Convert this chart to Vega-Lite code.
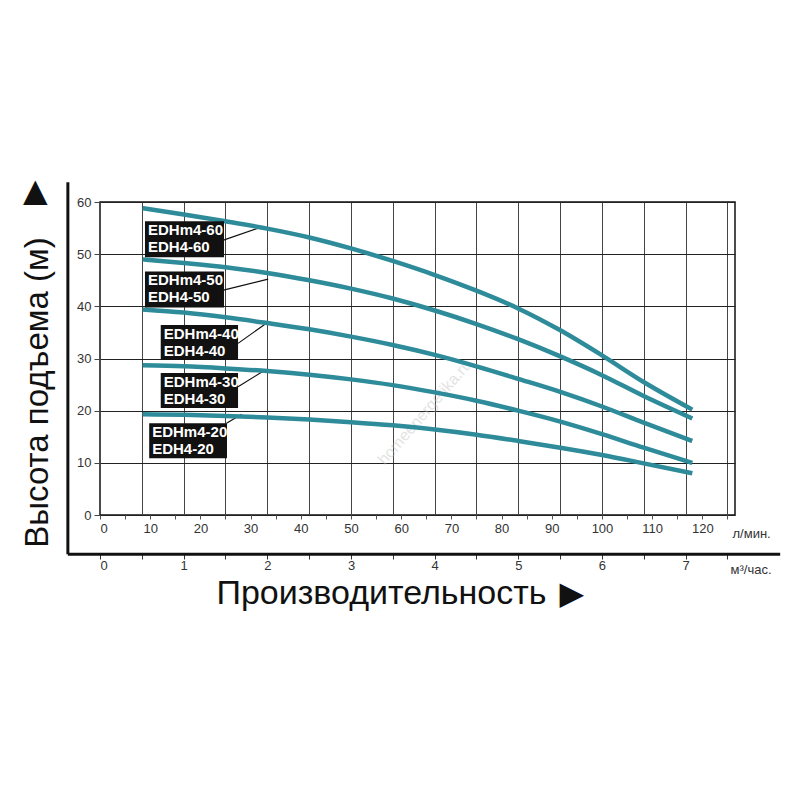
{
  "$schema": "https://vega.github.io/schema/vega-lite/v6.json",
  "width": 635,
  "height": 313,
  "autosize": "none",
  "padding": {"left": 100, "top": 202, "right": 65, "bottom": 285},
  "background": "white",
  "config": {
    "view": {"stroke": "#111", "strokeWidth": 1.5},
    "font": "Liberation Sans",
    "axis": {"labelFont": "Liberation Sans", "titleFont": "Liberation Sans"}
  },
  "datasets": {
    "curves": [
      {"model": "60", "q": 8.5, "h": 58.8}, {"model": "60", "q": 16.7, "h": 57.6}, {"model": "60", "q": 25, "h": 56.3}, {"model": "60", "q": 33.3, "h": 54.9}, {"model": "60", "q": 41.7, "h": 53.2}, {"model": "60", "q": 50, "h": 51.1}, {"model": "60", "q": 58.3, "h": 48.7}, {"model": "60", "q": 66.7, "h": 46.0}, {"model": "60", "q": 75, "h": 43.0}, {"model": "60", "q": 83.3, "h": 39.6}, {"model": "60", "q": 91.7, "h": 35.4}, {"model": "60", "q": 100, "h": 30.6}, {"model": "60", "q": 108.3, "h": 25.5}, {"model": "60", "q": 118, "h": 20.2},
      {"model": "50", "q": 8.5, "h": 49.0}, {"model": "50", "q": 16.7, "h": 48.3}, {"model": "50", "q": 25, "h": 47.5}, {"model": "50", "q": 33.3, "h": 46.4}, {"model": "50", "q": 41.7, "h": 45.0}, {"model": "50", "q": 50, "h": 43.4}, {"model": "50", "q": 58.3, "h": 41.5}, {"model": "50", "q": 66.7, "h": 39.2}, {"model": "50", "q": 75, "h": 36.6}, {"model": "50", "q": 83.3, "h": 33.7}, {"model": "50", "q": 91.7, "h": 30.4}, {"model": "50", "q": 100, "h": 26.8}, {"model": "50", "q": 108.3, "h": 22.8}, {"model": "50", "q": 118, "h": 18.5},
      {"model": "40", "q": 8.5, "h": 39.4}, {"model": "40", "q": 16.7, "h": 38.8}, {"model": "40", "q": 25, "h": 37.9}, {"model": "40", "q": 33.3, "h": 36.8}, {"model": "40", "q": 41.7, "h": 35.6}, {"model": "40", "q": 50, "h": 34.2}, {"model": "40", "q": 58.3, "h": 32.6}, {"model": "40", "q": 66.7, "h": 30.7}, {"model": "40", "q": 75, "h": 28.5}, {"model": "40", "q": 83.3, "h": 26.1}, {"model": "40", "q": 91.7, "h": 23.6}, {"model": "40", "q": 100, "h": 20.8}, {"model": "40", "q": 108.3, "h": 17.7}, {"model": "40", "q": 118, "h": 14.2},
      {"model": "30", "q": 8.5, "h": 28.7}, {"model": "30", "q": 16.7, "h": 28.5}, {"model": "30", "q": 25, "h": 28.1}, {"model": "30", "q": 33.3, "h": 27.6}, {"model": "30", "q": 41.7, "h": 26.9}, {"model": "30", "q": 50, "h": 26.0}, {"model": "30", "q": 58.3, "h": 24.9}, {"model": "30", "q": 66.7, "h": 23.5}, {"model": "30", "q": 75, "h": 21.9}, {"model": "30", "q": 83.3, "h": 20.0}, {"model": "30", "q": 91.7, "h": 17.9}, {"model": "30", "q": 100, "h": 15.5}, {"model": "30", "q": 108.3, "h": 12.9}, {"model": "30", "q": 118, "h": 10.0},
      {"model": "20", "q": 8.5, "h": 19.3}, {"model": "20", "q": 16.7, "h": 19.2}, {"model": "20", "q": 25, "h": 19.0}, {"model": "20", "q": 33.3, "h": 18.7}, {"model": "20", "q": 41.7, "h": 18.3}, {"model": "20", "q": 50, "h": 17.8}, {"model": "20", "q": 58.3, "h": 17.2}, {"model": "20", "q": 66.7, "h": 16.4}, {"model": "20", "q": 75, "h": 15.4}, {"model": "20", "q": 83.3, "h": 14.2}, {"model": "20", "q": 91.7, "h": 12.9}, {"model": "20", "q": 100, "h": 11.5}, {"model": "20", "q": 108.3, "h": 9.9}, {"model": "20", "q": 118, "h": 8.0}
    ],
    "boxes": [
      {"model": "60", "label": "EDHm4-60\nEDH4-60", "q": 8.96, "q2": 24.7, "h": 56.3, "h2": 49.4},
      {"model": "50", "label": "EDHm4-50\nEDH4-50", "q": 8.96, "q2": 24.7, "h": 46.7, "h2": 39.8},
      {"model": "40", "label": "EDHm4-40\nEDH4-40", "q": 12.1, "q2": 27.5, "h": 36.4, "h2": 29.7},
      {"model": "30", "label": "EDHm4-30\nEDH4-30", "q": 12.1, "q2": 27.5, "h": 27.2, "h2": 20.5},
      {"model": "20", "label": "EDHm4-20\nEDH4-20", "q": 9.8, "q2": 25.3, "h": 17.6, "h2": 10.9}
    ],
    "leaders": [
      {"model": "60", "q": 24.6, "h": 52.7, "q2": 32.2, "h2": 55.2},
      {"model": "50", "q": 24.6, "h": 43.1, "q2": 33.5, "h2": 45.2},
      {"model": "40", "q": 27.5, "h": 32.9, "q2": 33.5, "h2": 37.0},
      {"model": "30", "q": 27.5, "h": 24.6, "q2": 32.4, "h2": 27.5},
      {"model": "20", "q": 25.2, "h": 17.6, "q2": 28.2, "h2": 19.3}
    ],
    "frame": [
      {"q": -6.4, "h": 63.8, "q2": -6.4, "h2": -7.5},
      {"q": -6.4, "h": -7.5, "q2": 135.5, "h2": -7.5}
    ],
    "symbols": [
      {"sym": "▲", "q": -12.9, "h": 62.1},
      {"sym": "▶", "q": 94.0, "h": -15.1}
    ],
    "watermark": [
      {"text": "homeenergetika.ru", "q": 64.7, "h": 19.7}
    ]
  },
  "layer": [
    {
      "data": {"name": "watermark"},
      "mark": {"type": "text", "angle": 311, "fontSize": 16, "color": "#bbbbbb", "opacity": 0.4, "align": "center", "baseline": "middle"},
      "encoding": {
        "x": {"field": "q", "type": "quantitative", "axis": null},
        "y": {"field": "h", "type": "quantitative"},
        "text": {"field": "text"}
      }
    },
    {
      "data": {"name": "leaders"},
      "mark": {"type": "rule", "color": "#111", "strokeWidth": 1.2},
      "encoding": {
        "x": {"field": "q", "type": "quantitative",
          "axis": {"orient": "bottom", "values": [8.3333, 16.6667, 25, 33.3333, 41.6667, 50, 58.3333, 66.6667, 75, 83.3333, 91.6667, 100, 108.3333, 116.6667, 125],
            "grid": true, "gridColor": "#444", "gridWidth": 1, "labels": false, "ticks": false, "domain": false,
            "title": "Производительность", "titleFontSize": 34, "titleFontWeight": "normal", "titleColor": "#111",
            "titleX": 281, "titleY": 88, "titleAlign": "center", "titleBaseline": "alphabetic"}},
        "x2": {"field": "q2"},
        "y": {"field": "h", "type": "quantitative"},
        "y2": {"field": "h2"}
      }
    },
    {
      "data": {"name": "curves"},
      "mark": {"type": "line", "color": "#2e8b9a", "strokeWidth": 4.5, "interpolate": "monotone", "strokeCap": "butt"},
      "encoding": {
        "x": {"field": "q", "type": "quantitative",
          "scale": {"domain": [0, 126.5], "nice": false, "zero": false},
          "axis": {"orient": "bottom", "values": [0, 5, 10, 15, 20, 25, 30, 35, 40, 45, 50, 55, 60, 65, 70, 75, 80, 85, 90, 95, 100, 105, 110, 115, 120, 125],
            "labelExpr": "datum.value % 10 == 0 && datum.value <= 120 ? datum.label : ''",
            "grid": false, "domain": false, "tickSize": 4, "tickColor": "#555", "labelFontSize": 13, "labelColor": "#333", "labelPadding": 3,
            "title": "л/мин.", "titleFontSize": 13, "titleFontWeight": "normal", "titleColor": "#333",
            "titleX": 632, "titleY": 22, "titleAlign": "left", "titleBaseline": "alphabetic"}},
        "y": {"field": "h", "type": "quantitative",
          "scale": {"domain": [0, 60], "nice": false},
          "axis": {"values": [0, 5, 10, 15, 20, 25, 30, 35, 40, 45, 50, 55, 60],
            "labelExpr": "datum.value % 10 == 0 ? datum.label : ''",
            "grid": true, "gridColor": "#222", "gridWidth": 1, "domain": false, "tickSize": 6, "tickColor": "#444",
            "labelFontSize": 13, "labelColor": "#333", "labelPadding": 3,
            "title": "Высота подъема (м)", "titleFontSize": 33, "titleFontWeight": "normal", "titleColor": "#111",
            "titleAngle": 270, "titleX": -53, "titleY": 190, "titleAlign": "center", "titleBaseline": "alphabetic"}},
        "detail": {"field": "model"}
      }
    },
    {
      "data": {"name": "boxes"},
      "mark": {"type": "rect", "color": "#111"},
      "encoding": {
        "x": {"field": "q", "type": "quantitative",
          "axis": {"values": [0, 8.3333, 16.6667, 25, 33.3333, 41.6667, 50, 58.3333, 66.6667, 75, 83.3333, 91.6667, 100, 108.3333, 116.6667, 125],
            "labelExpr": "round(datum.value / 8.33333) % 2 == 0 ? format(round(datum.value / 16.66667), 'd') : ''",
            "orient": "bottom", "offset": 39, "grid": false, "domain": false, "tickSize": 5, "tickColor": "#333",
            "labelFontSize": 13, "labelColor": "#333", "labelPadding": 0,
            "title": "м³/час.", "titleFontSize": 13, "titleFontWeight": "normal", "titleColor": "#333",
            "titleX": 630, "titleY": 19, "titleAlign": "left", "titleBaseline": "alphabetic"}},
        "x2": {"field": "q2"},
        "y": {"field": "h", "type": "quantitative"},
        "y2": {"field": "h2"}
      }
    },
    {
      "data": {"name": "boxes"},
      "mark": {"type": "text", "color": "white", "fontWeight": "bold", "fontSize": 15, "align": "left", "baseline": "top", "dx": 3, "dy": 2, "lineBreak": "\n", "lineHeight": 17},
      "encoding": {
        "x": {"field": "q", "type": "quantitative", "axis": null},
        "y": {"field": "h", "type": "quantitative"},
        "text": {"field": "label"}
      }
    },
    {
      "data": {"name": "frame"},
      "mark": {"type": "rule", "color": "#111", "strokeWidth": 3},
      "encoding": {
        "x": {"field": "q", "type": "quantitative", "axis": null},
        "x2": {"field": "q2"},
        "y": {"field": "h", "type": "quantitative"},
        "y2": {"field": "h2"}
      }
    },
    {
      "data": {"name": "symbols"},
      "mark": {"type": "text", "font": "DejaVu Sans", "fontSize": 32, "color": "#111", "align": "center", "baseline": "middle"},
      "encoding": {
        "x": {"field": "q", "type": "quantitative", "axis": null},
        "y": {"field": "h", "type": "quantitative"},
        "text": {"field": "sym"}
      }
    }
  ],
  "resolve": {"axis": {"x": "independent"}}
}
